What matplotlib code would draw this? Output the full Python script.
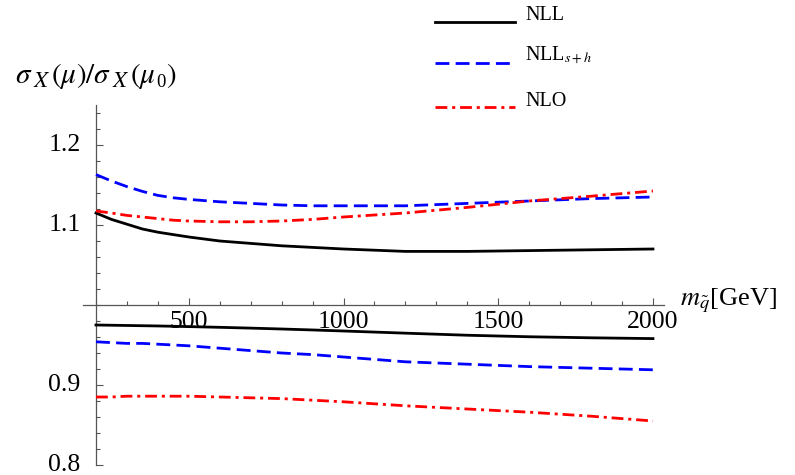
import numpy as np
import matplotlib.pyplot as plt
import matplotlib.transforms as mtransforms
from matplotlib.lines import Line2D
from matplotlib.ticker import MultipleLocator, FixedLocator

plt.rcParams['font.family'] = ['Liberation Serif', 'DejaVu Serif']
plt.rcParams['mathtext.fontset'] = 'stix'
plt.rcParams['lines.scale_dashes'] = False

# squark mass grid [GeV]
mass = [200, 250, 300, 350, 400, 450, 500, 600, 700, 800, 900, 1000,
        1200, 1400, 1600, 1800, 2000]

# upper / lower scale-variation ratios
nll_up = [1.115, 1.107, 1.101, 1.095, 1.091, 1.088, 1.085, 1.080, 1.077, 1.074, 1.072, 1.070,
          1.067, 1.067, 1.068, 1.069, 1.070]
nll_lo = [0.9750, 0.9747, 0.9744, 0.9741, 0.9738, 0.9734, 0.9730, 0.9721, 0.9711, 0.9700,
          0.9688, 0.9675, 0.9648, 0.9622, 0.9603, 0.9590, 0.9580]
nllsh_up = [1.163, 1.155, 1.148, 1.142, 1.137, 1.134, 1.132, 1.129, 1.127, 1.125, 1.124, 1.124,
            1.124, 1.127, 1.130, 1.133, 1.135]
nllsh_lo = [0.954, 0.953, 0.952, 0.952, 0.951, 0.950, 0.949, 0.946, 0.943, 0.940, 0.938, 0.935,
            0.929, 0.926, 0.923, 0.921, 0.919]
nlo_up = [1.1175, 1.115, 1.112, 1.110, 1.108, 1.106, 1.105, 1.104, 1.104, 1.105, 1.107, 1.110,
          1.115, 1.122, 1.130, 1.136, 1.1425]
nlo_lo = [0.885, 0.885, 0.886, 0.886, 0.886, 0.886, 0.886, 0.885, 0.884, 0.883, 0.881, 0.879,
          0.874, 0.870, 0.866, 0.861, 0.855]

labels = ['NLL', r'NLL$_{s+h}$', 'NLO']

styles = [
    dict(color='black', lw=2.0, linestyle='-'),
    dict(color='#0000ff', lw=2.0, linestyle=(0, (10, 4.5))),
    dict(color='#ff0000', lw=2.0, linestyle=(0, (8.5, 3.5, 2.2, 3.5))),
]

fig = plt.figure(figsize=(7.95, 4.75), dpi=100)
ax = fig.add_axes([83 / 795, 10 / 475, 580.8 / 795, 360 / 475])

series = [(nll_up, nll_lo), (nllsh_up, nllsh_lo), (nlo_up, nlo_lo)]
for (up, lo), st in zip(series, styles):
    ax.plot(mass, up, **st)
    ax.plot(mass, lo, **st)

ax.set_xlim(158, 2035)
ax.set_ylim(0.8, 1.25)

# Mathematica-like crossing axes
for s in ['top', 'right']:
    ax.spines[s].set_visible(False)
ax.spines['left'].set_position(('data', 200))
ax.spines['bottom'].set_position(('data', 1.0))
for s in ['left', 'bottom']:
    ax.spines[s].set_color('#555555')
    ax.spines[s].set_linewidth(0.9)
    ax.spines[s].set_zorder(0)

ax.xaxis.set_major_locator(FixedLocator([500, 1000, 1500, 2000]))
ax.xaxis.set_minor_locator(FixedLocator(np.arange(200, 2001, 100)))
ax.yaxis.set_major_locator(FixedLocator([0.8, 0.9, 1.1, 1.2]))
ax.yaxis.set_minor_locator(MultipleLocator(0.02))
ax.set_yticklabels(['0.8', '0.9', '1.1', '1.2'])

ax.tick_params(which='both', direction='in', color='#555555', width=0.8, labelsize=18.5)
ax.tick_params(which='major', length=5)
ax.tick_params(which='minor', length=3)
ax.tick_params(axis='x', pad=4)
ax.tick_params(axis='y', pad=11)

# lift the y labels a touch so 0.8 stays inside the picture
lift = mtransforms.ScaledTranslation(0, 2.5 / 100, fig.dpi_scale_trans)
for lbl in ax.get_yticklabels():
    lbl.set_transform(lbl.get_transform() + lift)

# y-axis title, built from pieces so the subscripts stay large
renderer = fig.canvas.get_renderer()
pieces = [(r'$\sigma$', 21, 0), (r'$X$', 16.5, 4), (r'$(\mu)/\sigma$', 21, 0),
          (r'$X$', 16.5, 4), (r'$(\mu$', 21, 0), ('0', 13.5, 4), (r'$)$', 21, 0)]
x_px, base_px = 15, 83
for s, size, dy in pieces:
    t = fig.text(x_px / 795, 1 - (base_px + dy) / 475, s, fontsize=size,
                 va='baseline', ha='left')
    x_px = t.get_window_extent(renderer).x1 + 0.5

fig.text(680 / 795, 1 - 305 / 475, r'$m_{\tilde{q}}$[GeV]', fontsize=19, va='baseline', ha='left')

# legend drawn by hand
leg_y = [22, 63, 107]
for st, lab, yy in zip(styles, labels, leg_y):
    yf = 1 - yy / 475
    fig.add_artist(Line2D([435 / 795, 515 / 795], [yf, yf], **st))
    fig.text(525 / 795, 1 - (yy - 1.5) / 475, lab, fontsize=14.5, va='baseline', ha='left')

fig.savefig('out.png', dpi=100)
